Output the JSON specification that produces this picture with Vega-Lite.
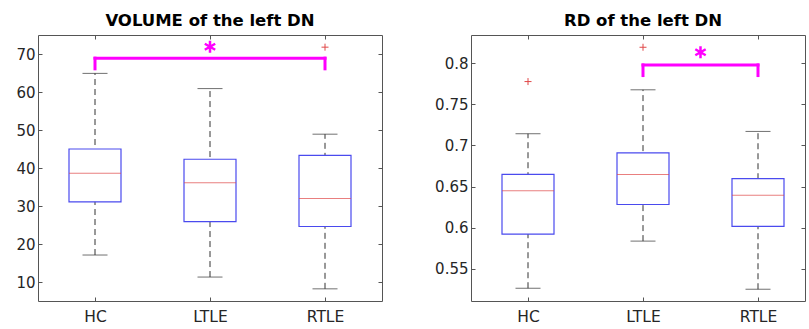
{
  "$schema": "https://vega.github.io/schema/vega-lite/v6.json",
  "padding": {"left": 15, "right": 0, "top": 12, "bottom": 0},
  "spacing": 51,
  "datasets": {
    "vol": [
      {"group": "HC", "lower": 17.1, "q1": 31.1, "median": 38.6, "q3": 45.0, "upper": 64.9},
      {"group": "LTLE", "lower": 11.3, "q1": 25.9, "median": 36.1, "q3": 42.3, "upper": 60.9},
      {"group": "RTLE", "lower": 8.2, "q1": 24.6, "median": 32.0, "q3": 43.3, "upper": 48.9}
    ],
    "vol_out": [{"group": "RTLE", "value": 71.8}],
    "vol_sig": [{"group": "HC", "group2": "RTLE", "top": 68.9, "bottom": 66.1, "mid": "LTLE", "star": 71.9}],
    "rd": [
      {"group": "HC", "lower": 0.5265, "q1": 0.5923, "median": 0.645, "q3": 0.665, "upper": 0.7143},
      {"group": "LTLE", "lower": 0.5838, "q1": 0.6283, "median": 0.6647, "q3": 0.691, "upper": 0.7677},
      {"group": "RTLE", "lower": 0.5253, "q1": 0.6017, "median": 0.6396, "q3": 0.6598, "upper": 0.7171}
    ],
    "rd_out": [{"group": "HC", "value": 0.7777}, {"group": "LTLE", "value": 0.8194}],
    "rd_sig": [{"group": "LTLE", "group2": "RTLE", "top": 0.7979, "bottom": 0.785, "mid": "LTLE", "star": 0.8133}]
  },
  "hconcat": [
    {
      "width": 344,
      "height": 266,
      "title": {"text": "VOLUME of the left DN", "offset": 5},
      "resolve": {"axis": {"x": "independent", "y": "independent"}},
      "layer": [
        {
          "data": {"name": "vol"},
          "mark": {"type": "rule", "strokeDash": [6, 4], "color": "#333333", "strokeWidth": 1},
          "encoding": {
            "x": {"field": "group", "type": "nominal", "scale": {"type": "point", "domain": ["HC", "LTLE", "RTLE"], "range": [57, 287], "padding": 0}, "axis": {"title": null, "orient": "bottom", "labelAngle": 0, "labelFontSize": 15.5, "labelPadding": 12}},
            "y": {"field": "lower", "type": "quantitative", "scale": {"domain": [5, 75], "nice": false, "zero": false}, "axis": {"title": null, "orient": "left", "values": [10, 20, 30, 40, 50, 60, 70], "labelFontSize": 15, "labelPadding": 7}},
            "y2": {"field": "upper"}
          }
        },
        {
          "data": {"name": "vol"},
          "mark": {"type": "tick", "size": 25, "thickness": 1, "color": "#333333"},
          "encoding": {
            "x": {"field": "group", "type": "nominal", "axis": null},
            "y": {"field": "lower", "type": "quantitative", "axis": null}
          }
        },
        {
          "data": {"name": "vol"},
          "mark": {"type": "tick", "size": 25, "thickness": 1, "color": "#333333"},
          "encoding": {
            "x": {"field": "group", "type": "nominal", "axis": null},
            "y": {"field": "upper", "type": "quantitative", "axis": null}
          }
        },
        {
          "data": {"name": "vol"},
          "mark": {"type": "bar", "width": 52, "fill": "white", "stroke": "#4a4aee", "strokeWidth": 1.2},
          "encoding": {
            "x": {"field": "group", "type": "nominal", "axis": null},
            "y": {"field": "q1", "type": "quantitative", "axis": null},
            "y2": {"field": "q3"}
          }
        },
        {
          "data": {"name": "vol"},
          "mark": {"type": "tick", "size": 52, "thickness": 1, "color": "#e04848"},
          "encoding": {
            "x": {"field": "group", "type": "nominal", "axis": null},
            "y": {"field": "median", "type": "quantitative", "axis": null}
          }
        },
        {
          "data": {"name": "vol_out"},
          "mark": {"type": "point", "shape": "M-1,0H1M0,-1V1", "size": 49, "filled": false, "stroke": "#e04848", "strokeWidth": 1, "opacity": 1},
          "encoding": {
            "x": {"field": "group", "type": "nominal", "axis": null},
            "y": {"field": "value", "type": "quantitative", "axis": null}
          }
        },
        {
          "data": {"name": "vol_sig"},
          "mark": {"type": "rule", "color": "#ff00ff", "strokeWidth": 3, "strokeCap": "square"},
          "encoding": {
            "x": {"field": "group", "type": "nominal", "axis": null},
            "x2": {"field": "group2"},
            "y": {"field": "top", "type": "quantitative", "axis": null}
          }
        },
        {
          "data": {"name": "vol_sig"},
          "mark": {"type": "rule", "color": "#ff00ff", "strokeWidth": 3, "strokeCap": "square"},
          "encoding": {
            "x": {"field": "group", "type": "nominal", "axis": null},
            "y": {"field": "bottom", "type": "quantitative", "axis": null},
            "y2": {"field": "top"}
          }
        },
        {
          "data": {"name": "vol_sig"},
          "mark": {"type": "rule", "color": "#ff00ff", "strokeWidth": 3, "strokeCap": "square"},
          "encoding": {
            "x": {"field": "group2", "type": "nominal", "axis": null},
            "y": {"field": "bottom", "type": "quantitative", "axis": null},
            "y2": {"field": "top"}
          }
        },
        {
          "data": {"name": "vol_sig"},
          "mark": {"type": "point", "shape": "M0,-1V1M-0.866,-0.5L0.866,0.5M-0.866,0.5L0.866,-0.5", "size": 144, "filled": false, "stroke": "#ff00ff", "strokeWidth": 2.5, "opacity": 1},
          "encoding": {
            "x": {"field": "mid", "type": "nominal", "axis": null},
            "y": {"field": "star", "type": "quantitative", "axis": null}
          }
        },
        {
          "data": {"name": "vol"},
          "mark": {"type": "tick", "opacity": 0},
          "encoding": {
            "x": {"field": "group", "type": "nominal", "axis": {"title": null, "orient": "top", "labels": false, "minExtent": 0, "maxExtent": 0}},
            "y": {"field": "median", "type": "quantitative", "axis": {"title": null, "orient": "right", "labels": false, "values": [10, 20, 30, 40, 50, 60, 70], "minExtent": 0, "maxExtent": 0}}
          }
        }
      ]
    },
    {
      "width": 334,
      "height": 266,
      "title": {"text": "RD of the left DN", "offset": 5, "dx": 5},
      "resolve": {"axis": {"x": "independent", "y": "independent"}},
      "layer": [
        {
          "data": {"name": "rd"},
          "mark": {"type": "rule", "strokeDash": [6, 4], "color": "#333333", "strokeWidth": 1},
          "encoding": {
            "x": {"field": "group", "type": "nominal", "scale": {"type": "point", "domain": ["HC", "LTLE", "RTLE"], "range": [57, 287], "padding": 0}, "axis": {"title": null, "orient": "bottom", "labelAngle": 0, "labelFontSize": 15.5, "labelPadding": 12}},
            "y": {"field": "lower", "type": "quantitative", "scale": {"domain": [0.511, 0.8343], "nice": false, "zero": false}, "axis": {"title": null, "orient": "left", "values": [0.55, 0.6, 0.65, 0.7, 0.75, 0.8], "format": "~g", "labelFontSize": 15, "labelPadding": 7}},
            "y2": {"field": "upper"}
          }
        },
        {
          "data": {"name": "rd"},
          "mark": {"type": "tick", "size": 25, "thickness": 1, "color": "#333333"},
          "encoding": {
            "x": {"field": "group", "type": "nominal", "axis": null},
            "y": {"field": "lower", "type": "quantitative", "axis": null}
          }
        },
        {
          "data": {"name": "rd"},
          "mark": {"type": "tick", "size": 25, "thickness": 1, "color": "#333333"},
          "encoding": {
            "x": {"field": "group", "type": "nominal", "axis": null},
            "y": {"field": "upper", "type": "quantitative", "axis": null}
          }
        },
        {
          "data": {"name": "rd"},
          "mark": {"type": "bar", "width": 52, "fill": "white", "stroke": "#4a4aee", "strokeWidth": 1.2},
          "encoding": {
            "x": {"field": "group", "type": "nominal", "axis": null},
            "y": {"field": "q1", "type": "quantitative", "axis": null},
            "y2": {"field": "q3"}
          }
        },
        {
          "data": {"name": "rd"},
          "mark": {"type": "tick", "size": 52, "thickness": 1, "color": "#e04848"},
          "encoding": {
            "x": {"field": "group", "type": "nominal", "axis": null},
            "y": {"field": "median", "type": "quantitative", "axis": null}
          }
        },
        {
          "data": {"name": "rd_out"},
          "mark": {"type": "point", "shape": "M-1,0H1M0,-1V1", "size": 49, "filled": false, "stroke": "#e04848", "strokeWidth": 1, "opacity": 1},
          "encoding": {
            "x": {"field": "group", "type": "nominal", "axis": null},
            "y": {"field": "value", "type": "quantitative", "axis": null}
          }
        },
        {
          "data": {"name": "rd_sig"},
          "mark": {"type": "rule", "color": "#ff00ff", "strokeWidth": 3, "strokeCap": "square"},
          "encoding": {
            "x": {"field": "group", "type": "nominal", "axis": null},
            "x2": {"field": "group2"},
            "y": {"field": "top", "type": "quantitative", "axis": null}
          }
        },
        {
          "data": {"name": "rd_sig"},
          "mark": {"type": "rule", "color": "#ff00ff", "strokeWidth": 3, "strokeCap": "square"},
          "encoding": {
            "x": {"field": "group", "type": "nominal", "axis": null},
            "y": {"field": "bottom", "type": "quantitative", "axis": null},
            "y2": {"field": "top"}
          }
        },
        {
          "data": {"name": "rd_sig"},
          "mark": {"type": "rule", "color": "#ff00ff", "strokeWidth": 3, "strokeCap": "square"},
          "encoding": {
            "x": {"field": "group2", "type": "nominal", "axis": null},
            "y": {"field": "bottom", "type": "quantitative", "axis": null},
            "y2": {"field": "top"}
          }
        },
        {
          "data": {"name": "rd_sig"},
          "mark": {"type": "point", "shape": "M0,-1V1M-0.866,-0.5L0.866,0.5M-0.866,0.5L0.866,-0.5", "size": 144, "filled": false, "stroke": "#ff00ff", "strokeWidth": 2.5, "opacity": 1, "xOffset": 57.5},
          "encoding": {
            "x": {"field": "mid", "type": "nominal", "axis": null},
            "y": {"field": "star", "type": "quantitative", "axis": null}
          }
        },
        {
          "data": {"name": "rd"},
          "mark": {"type": "tick", "opacity": 0},
          "encoding": {
            "x": {"field": "group", "type": "nominal", "axis": {"title": null, "orient": "top", "labels": false, "minExtent": 0, "maxExtent": 0}},
            "y": {"field": "median", "type": "quantitative", "axis": {"title": null, "orient": "right", "labels": false, "values": [0.55, 0.6, 0.65, 0.7, 0.75, 0.8], "minExtent": 0, "maxExtent": 0}}
          }
        }
      ]
    }
  ],
  "config": {
    "view": {"stroke": "#555555", "strokeWidth": 1},
    "axis": {"labelFont": "DejaVu Sans", "labelColor": "#262626", "domain": false, "grid": false, "tickColor": "#555555", "tickSize": -4, "ticks": true},
    "title": {"font": "DejaVu Sans", "fontSize": 16.5, "fontWeight": "bold", "color": "#000000", "anchor": "middle"}
  }
}
